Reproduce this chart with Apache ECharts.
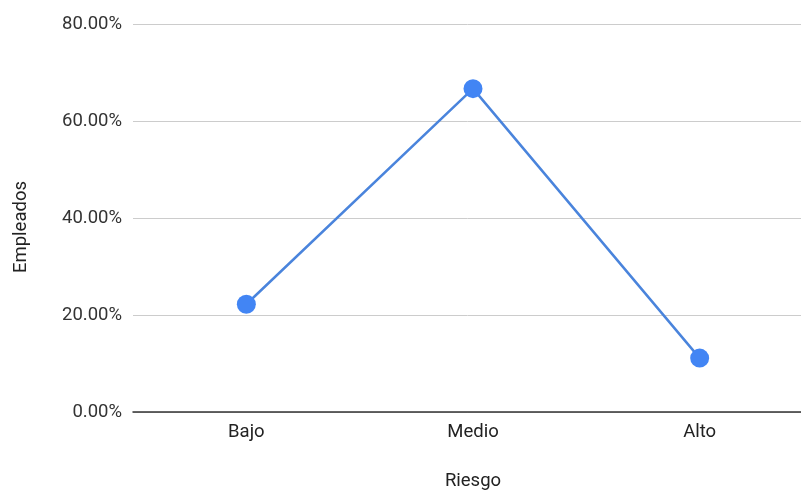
<!DOCTYPE html>
<html>
<head>
<meta charset="utf-8">
<script src="https://cdn.jsdelivr.net/npm/echarts@6/dist/echarts.min.js"></script>
<style>html,body{margin:0;padding:0;background:#fff;}#c{width:801px;height:491px;}</style>
</head>
<body>
<div id="c"></div>
<script>
const categories = ["Bajo", "Medio", "Alto"];
const empleados = [22.22, 66.67, 11.11];
const yTicks = [0, 20, 40, 60, 80];

const chart = echarts.init(document.getElementById('c'), null, {renderer: 'canvas'});
chart.setOption({
  animation: false,
  backgroundColor: '#ffffff',
  textStyle: {fontFamily: 'Roboto'},
  grid: {left: 133, top: 24, width: 680, height: 388, containLabel: false, outerBoundsMode: 'none'},
  xAxis: {
    type: 'category',
    data: categories,
    boundaryGap: true,
    name: 'Riesgo',
    nameLocation: 'middle',
    nameGap: 60,
    nameTextStyle: {fontFamily: 'Roboto', fontSize: 18.5, color: '#222'},
    axisLine: {show: true, lineStyle: {color: '#333', width: 1.5}},
    axisTick: {show: false},
    axisLabel: {fontFamily: 'Roboto', fontSize: 18.5, color: '#222', margin: 11}
  },
  yAxis: {
    type: 'value',
    min: yTicks[0],
    max: yTicks[yTicks.length - 1],
    interval: 20,
    name: 'Empleados',
    nameLocation: 'middle',
    nameGap: 102,
    nameTextStyle: {fontFamily: 'Roboto', fontSize: 18.5, color: '#222', padding: [0, 18, 0, 0]},
    axisLine: {show: false},
    axisTick: {show: false},
    splitLine: {show: true, lineStyle: {color: '#cccccc', width: 1}},
    axisLabel: {
      fontFamily: 'Roboto', fontSize: 18.5, color: '#333', margin: 11,
      formatter: v => v.toFixed(2) + '%'
    }
  },
  series: [{
    type: 'line',
    data: empleados,
    symbol: 'circle',
    symbolSize: 19,
    lineStyle: {color: '#4a84dc', width: 2.5},
    itemStyle: {color: '#4285F4'},
    z: 3
  }]
});
</script>
</body>
</html>
